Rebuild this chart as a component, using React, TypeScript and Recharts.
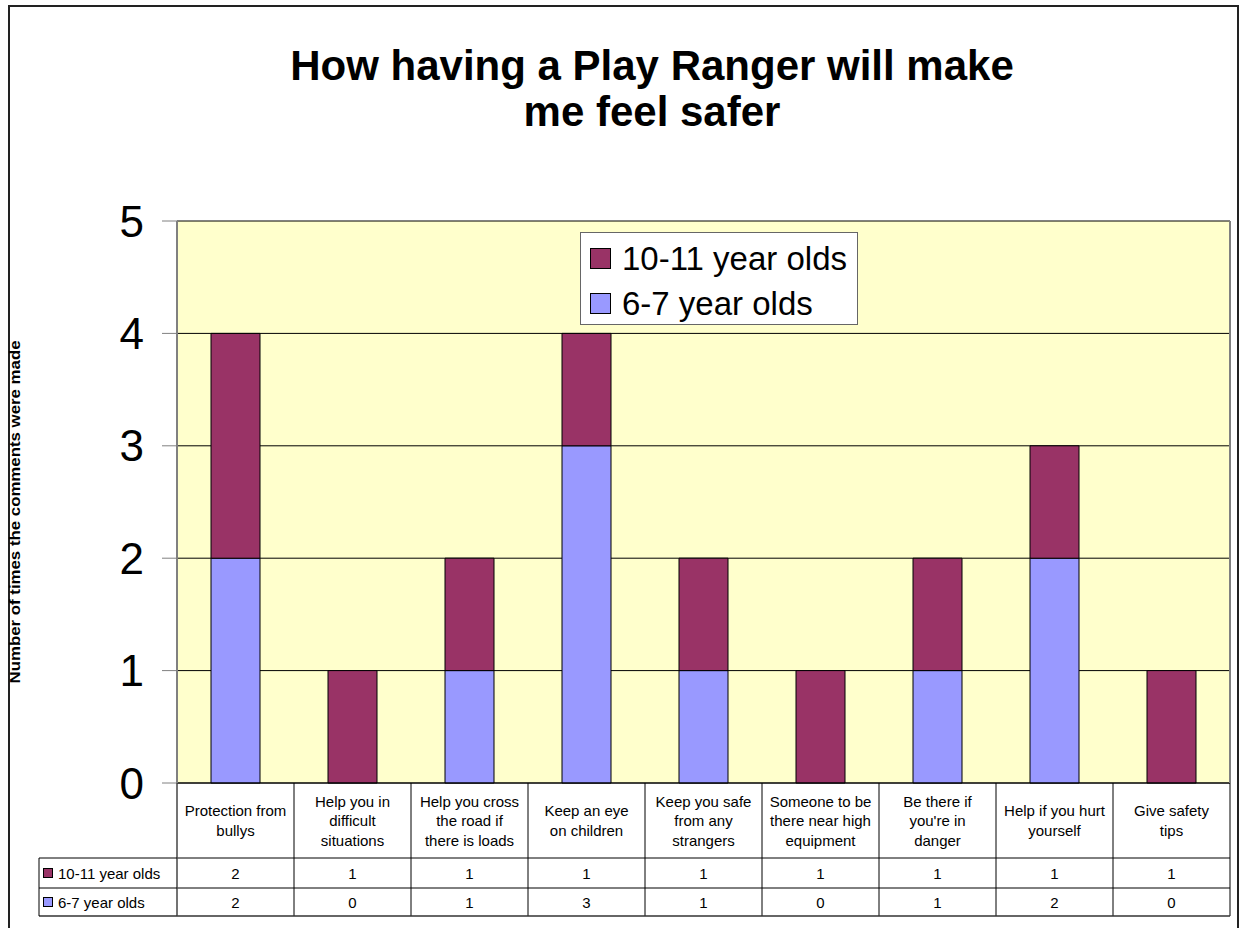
import React from 'react';
import { BarChart, Bar, XAxis, YAxis, CartesianGrid, Legend } from 'recharts';

const categories = [
  'Protection from\nbullys',
  'Help you in\ndifficult\nsituations',
  'Help you cross\nthe road if\nthere is loads',
  'Keep an eye\non children',
  'Keep you safe\nfrom any\nstrangers',
  'Someone to be\nthere near high\nequipment',
  "Be there if\nyou're in\ndanger",
  'Help if you hurt\nyourself',
  'Give safety\ntips',
];
const olds1011 = [2, 1, 1, 1, 1, 1, 1, 1, 1];
const olds67 = [2, 0, 1, 3, 1, 0, 1, 2, 0];
const seriesNames = ['10-11 year olds', '6-7 year olds'];
const seriesColors = ['#993366', '#9999FF'];
const yTicks = [0, 1, 2, 3, 4, 5];
const titleLines = ['How having a Play Ranger will make', 'me feel safer'];
const yLabel = 'Number of times the comments were made';

const data = categories.map((c, i) => ({ category: c, a1011: olds1011[i], a67: olds67[i] }));

const FONT = '"Liberation Sans", Arial, Helvetica, sans-serif';
const W = 1242;
const H = 928;
const PLOT_LEFT = 177;
const PLOT_RIGHT = 1230;
const PLOT_TOP = 221;
const PLOT_BOTTOM = 783;
const BAND = (PLOT_RIGHT - PLOT_LEFT) / categories.length;
const TABLE_LEFT = 39;
const CAT_ROW_H = 75;
const ROW1_H = 30;
const ROW2_H = 28;
const TABLE_FS = 15;

const TableTick = (props: any) => {
  const { x, y, payload, index } = props;
  const i = payload && payload.index != null ? payload.index : index;
  const left = x - BAND / 2;
  const right = x + BAND / 2;
  const lines = String(categories[i]).split('\n');
  const lineH = 19.5;
  const cy = y + CAT_ROW_H / 2;
  const r1 = y + CAT_ROW_H;
  const r2 = r1 + ROW1_H;
  const r3 = r2 + ROW2_H;
  const rows = [olds1011, olds67];
  const rowMid = [(r1 + r2) / 2, (r2 + r3) / 2];
  return (
    <g>
      {lines.map((ln, k) => (
        <text
          key={k}
          x={x}
          y={cy + (k - (lines.length - 1) / 2) * lineH}
          textAnchor="middle"
          dominantBaseline="central"
          fontSize={TABLE_FS}
          fontFamily={FONT}
          fill="#000"
        >
          {ln}
        </text>
      ))}
      {rows.map((arr, r) => (
        <text
          key={'v' + r}
          x={x}
          y={rowMid[r]}
          textAnchor="middle"
          dominantBaseline="central"
          fontSize={TABLE_FS}
          fontFamily={FONT}
          fill="#000"
        >
          {arr[i]}
        </text>
      ))}
      <line x1={right} y1={y} x2={right} y2={r3} stroke="#000" strokeWidth={1} />
      <line x1={left} y1={r1} x2={right} y2={r1} stroke="#000" strokeWidth={1} />
      <line x1={left} y1={r2} x2={right} y2={r2} stroke="#000" strokeWidth={1} />
      <line x1={left} y1={r3} x2={right} y2={r3} stroke="#333" strokeWidth={1.5} />
      {i === 0 && (
        <g>
          <line x1={left} y1={y} x2={left} y2={r3} stroke="#444" strokeWidth={1.5} />
          <line x1={TABLE_LEFT} y1={r1} x2={left} y2={r1} stroke="#000" strokeWidth={1} />
          <line x1={TABLE_LEFT} y1={r2} x2={left} y2={r2} stroke="#000" strokeWidth={1} />
          <line x1={TABLE_LEFT} y1={r3} x2={left} y2={r3} stroke="#333" strokeWidth={1.5} />
          <line x1={TABLE_LEFT} y1={r1} x2={TABLE_LEFT} y2={r3} stroke="#000" strokeWidth={1} />
          {seriesNames.map((nm, r) => (
            <g key={'l' + r}>
              <rect x={TABLE_LEFT + 4.5} y={rowMid[r] - 4.5} width={9} height={9} fill={seriesColors[r]} stroke="#000" strokeWidth={1} />
              <text
                x={TABLE_LEFT + 19}
                y={rowMid[r]}
                dominantBaseline="central"
                fontSize={TABLE_FS}
                fontFamily={FONT}
                fill="#000"
              >
                {nm}
              </text>
            </g>
          ))}
        </g>
      )}
    </g>
  );
};

const renderLegend = (props: any) => {
  const payload = (props.payload || [])
    .slice()
    .sort((a: any, b: any) => seriesNames.indexOf(a.value) - seriesNames.indexOf(b.value));
  return (
    <div
      style={{
        width: 278,
        height: 93,
        background: '#fff',
        border: '1px solid #666',
        boxSizing: 'border-box',
        fontFamily: FONT,
        fontSize: 33,
        color: '#000',
        paddingTop: 3,
      }}
    >
      {payload.map((p: any, k: number) => (
        <div key={k} style={{ height: 45, position: 'relative' }}>
          <div
            style={{
              position: 'absolute',
              left: 9,
              top: 12,
              width: 21,
              height: 21,
              background: p.color,
              border: '1px solid #000',
              boxSizing: 'border-box',
            }}
          />
          <span style={{ position: 'absolute', left: 41, top: 0, lineHeight: '45px', whiteSpace: 'nowrap' }}>{p.value}</span>
        </div>
      ))}
    </div>
  );
};

export default function App() {
  return (
    <div style={{ position: 'absolute', left: 0, top: 0, width: W, height: H, overflow: 'hidden', background: '#fff' }}>
      <div
        style={{
          position: 'absolute',
          left: 8,
          top: 5,
          width: 1231,
          height: 1000,
          border: '2px solid #222',
          boxSizing: 'border-box',
        }}
      />
      <div style={{ position: 'absolute', left: 0, top: 0 }}>
        <BarChart
          width={W}
          height={H}
          data={data}
          margin={{ top: PLOT_TOP, right: 0, bottom: 0, left: 0 }}
        >
          <CartesianGrid yAxisId="left" vertical={false} stroke="#000" fill="#FFFFCC" />
          <XAxis
            dataKey="category"
            height={H - PLOT_BOTTOM}
            interval={0}
            tickLine={false}
            tickSize={0}
            tickMargin={0}
            axisLine={{ stroke: '#000' }}
            tick={<TableTick />}
          />
          <YAxis
            yAxisId="left"
            width={PLOT_LEFT}
            domain={[0, 5]}
            ticks={yTicks}
            interval={0}
            tickSize={15}
            tickMargin={18}
            axisLine={{ stroke: '#808080', strokeWidth: 2 }}
            tickLine={{ stroke: '#808080' }}
            tick={{ fontSize: 44, fill: '#000', fontFamily: FONT }}
          />
          <YAxis
            yAxisId="right"
            orientation="right"
            width={W - PLOT_RIGHT}
            domain={[0, 5]}
            tick={false}
            tickLine={false}
            axisLine={{ stroke: '#808080', strokeWidth: 2 }}
          />
          <Legend
            layout="horizontal"
            align="center"
            verticalAlign="middle"
            content={renderLegend}
            wrapperStyle={{ position: 'absolute', left: 580, top: 232, width: 278, height: 93 }}
          />
          <Bar
            yAxisId="left"
            dataKey="a67"
            name={seriesNames[1]}
            stackId="s"
            fill={seriesColors[1]}
            stroke="#000"
            strokeWidth={1}
            barSize={49}
            isAnimationActive={false}
          />
          <Bar
            yAxisId="left"
            dataKey="a1011"
            name={seriesNames[0]}
            stackId="s"
            fill={seriesColors[0]}
            stroke="#000"
            strokeWidth={1}
            barSize={49}
            isAnimationActive={false}
          />
        </BarChart>
      </div>
      <div
        style={{
          position: 'absolute',
          left: 252,
          top: 43,
          width: 800,
          textAlign: 'center',
          fontFamily: FONT,
          fontWeight: 'bold',
          fontSize: 42,
          lineHeight: '46px',
          color: '#000',
        }}
      >
        {titleLines.map((t, k) => (
          <div key={k}>{t}</div>
        ))}
      </div>
      <svg style={{ position: 'absolute', left: 0, top: 0, pointerEvents: 'none' }} width={60} height={H}>
        <text
          x={15}
          y={512}
          transform="rotate(-90 15 512)"
          textAnchor="middle"
          dominantBaseline="central"
          fontFamily={FONT}
          fontWeight="bold"
          fontSize={14}
          textLength={343}
          lengthAdjust="spacingAndGlyphs"
          fill="#000"
        >
          {yLabel}
        </text>
      </svg>
    </div>
  );
}
